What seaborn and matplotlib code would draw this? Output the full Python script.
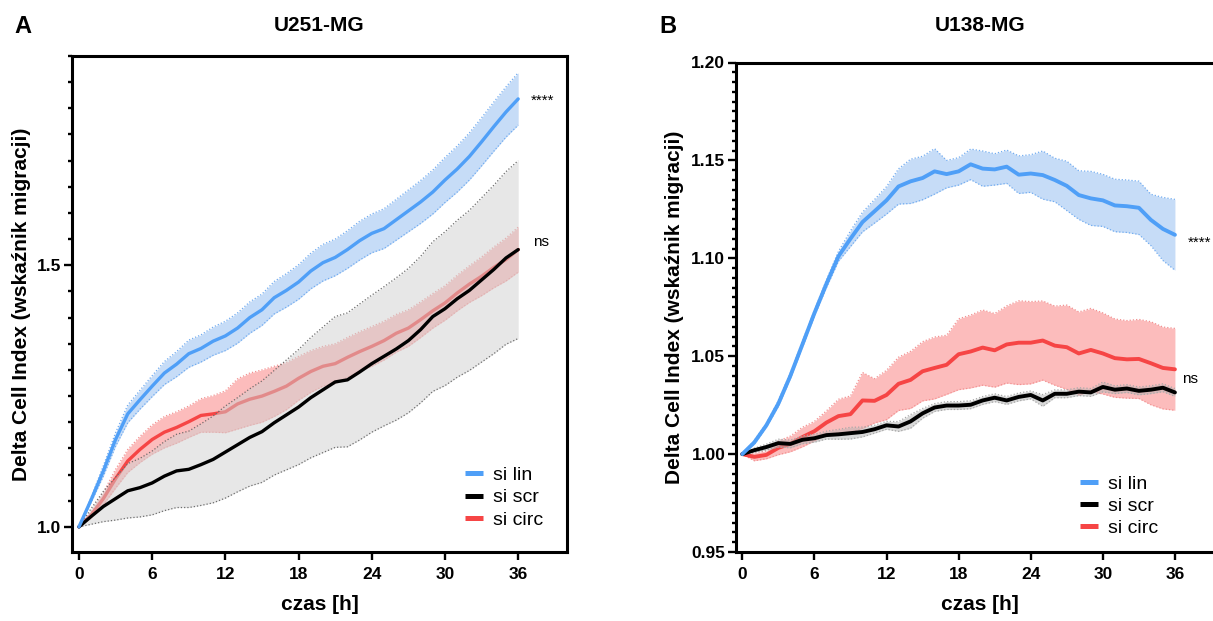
import matplotlib
matplotlib.use("Agg")
import matplotlib.pyplot as plt
import seaborn as sns
import pandas as pd
from matplotlib.lines import Line2D
from matplotlib.ticker import FixedLocator

# ---------------- data ----------------
hours = list(range(37))
series_names = ["si lin", "si scr", "si circ"]
x_ticks = [0, 6, 12, 18, 24, 30, 36]
panel_titles = ["U251-MG", "U138-MG"]
panel_letters = ["A", "B"]
x_label = "czas [h]"
y_label = "Delta Cell Index (wskaźnik migracji)"
a_yticks = [1.0, 1.5]
b_yticks = [0.95, 1.00, 1.05, 1.10, 1.15, 1.20]
a_signif = ["****", "ns"]
b_signif = ["****", "ns"]

# Panel A (U251-MG)
a_lin = [1.000, 1.052, 1.107, 1.167, 1.216, 1.243, 1.269, 1.294, 1.311, 1.331,
         1.341, 1.355, 1.365, 1.380, 1.400, 1.415, 1.438, 1.452, 1.468, 1.489,
         1.505, 1.515, 1.530, 1.547, 1.561, 1.570, 1.587, 1.604, 1.621, 1.640,
         1.663, 1.684, 1.708, 1.736, 1.765, 1.793, 1.818]
a_lin_sem = [0.000, 0.005, 0.010, 0.013, 0.017, 0.018, 0.020, 0.022, 0.024, 0.026,
             0.026, 0.027, 0.028, 0.029, 0.030, 0.030, 0.031, 0.032, 0.033, 0.034,
             0.035, 0.035, 0.036, 0.037, 0.037, 0.038, 0.039, 0.040, 0.041, 0.042,
             0.043, 0.044, 0.045, 0.046, 0.047, 0.048, 0.050]
a_scr = [1.000, 1.020, 1.039, 1.054, 1.069, 1.075, 1.084, 1.097, 1.107, 1.110,
         1.119, 1.129, 1.143, 1.157, 1.171, 1.182, 1.199, 1.214, 1.229, 1.247,
         1.262, 1.277, 1.281, 1.296, 1.312, 1.326, 1.340, 1.356, 1.377, 1.402,
         1.417, 1.436, 1.452, 1.472, 1.492, 1.514, 1.530]
a_scr_sem = [0.000, 0.015, 0.029, 0.041, 0.052, 0.056, 0.061, 0.066, 0.070, 0.073,
             0.078, 0.083, 0.088, 0.090, 0.093, 0.097, 0.100, 0.105, 0.110, 0.115,
             0.120, 0.125, 0.128, 0.130, 0.131, 0.133, 0.136, 0.138, 0.140, 0.143,
             0.147, 0.150, 0.153, 0.157, 0.161, 0.165, 0.170]
a_circ = [1.000, 1.023, 1.054, 1.092, 1.126, 1.148, 1.167, 1.181, 1.190, 1.201,
          1.213, 1.216, 1.220, 1.235, 1.244, 1.250, 1.259, 1.269, 1.284, 1.297,
          1.307, 1.312, 1.324, 1.335, 1.345, 1.356, 1.370, 1.380, 1.396, 1.413,
          1.428, 1.447, 1.464, 1.479, 1.496, 1.511, 1.530]
a_circ_sem = [0.000, 0.006, 0.012, 0.018, 0.022, 0.025, 0.028, 0.030, 0.030, 0.030,
              0.032, 0.035, 0.040, 0.048, 0.050, 0.050, 0.048, 0.045, 0.042, 0.040,
              0.038, 0.038, 0.038, 0.038, 0.038, 0.037, 0.036, 0.035, 0.034, 0.033,
              0.033, 0.034, 0.035, 0.037, 0.039, 0.041, 0.043]

# Panel B (U138-MG)
b_lin = [1.0000, 1.0060, 1.0147, 1.0258, 1.0400, 1.0560, 1.0720, 1.0870, 1.1010, 1.1100,
         1.1185, 1.1240, 1.1296, 1.1367, 1.1393, 1.1410, 1.1444, 1.1430, 1.1444, 1.1480,
         1.1458, 1.1454, 1.1468, 1.1427, 1.1433, 1.1425, 1.1400, 1.1370, 1.1323, 1.1306,
         1.1296, 1.1270, 1.1266, 1.1258, 1.1196, 1.1150, 1.1120]
b_lin_sem = [0.0000, 0.0010, 0.0010, 0.0015, 0.0015, 0.0015, 0.0015, 0.0020, 0.0025, 0.0040,
             0.0050, 0.0060, 0.0070, 0.0090, 0.0113, 0.0111, 0.0116, 0.0070, 0.0070, 0.0078,
             0.0090, 0.0080, 0.0085, 0.0096, 0.0096, 0.0123, 0.0111, 0.0126, 0.0124, 0.0138,
             0.0133, 0.0134, 0.0134, 0.0136, 0.0131, 0.0161, 0.0181]
b_scr = [1.0000, 1.0020, 1.0036, 1.0056, 1.0052, 1.0073, 1.0081, 1.0097, 1.0101, 1.0107,
         1.0113, 1.0127, 1.0147, 1.0141, 1.0167, 1.0208, 1.0238, 1.0248, 1.0248, 1.0252,
         1.0274, 1.0288, 1.0274, 1.0292, 1.0302, 1.0274, 1.0308, 1.0308, 1.0319, 1.0315,
         1.0343, 1.0329, 1.0335, 1.0323, 1.0329, 1.0339, 1.0315]
b_scr_sem = [0.0000, 0.0010, 0.0015, 0.0020, 0.0020, 0.0020, 0.0020, 0.0020, 0.0025, 0.0030,
             0.0025, 0.0020, 0.0020, 0.0025, 0.0035, 0.0025, 0.0020, 0.0020, 0.0020, 0.0020,
             0.0020, 0.0020, 0.0020, 0.0020, 0.0020, 0.0030, 0.0020, 0.0020, 0.0020, 0.0020,
             0.0025, 0.0020, 0.0020, 0.0020, 0.0020, 0.0020, 0.0020]
b_circ = [1.0000, 0.9986, 0.9996, 1.0032, 1.0052, 1.0087, 1.0117, 1.0161, 1.0194, 1.0204,
          1.0274, 1.0272, 1.0302, 1.0359, 1.0379, 1.0423, 1.0440, 1.0456, 1.0510, 1.0524,
          1.0544, 1.0530, 1.0560, 1.0569, 1.0569, 1.0580, 1.0554, 1.0546, 1.0514, 1.0532,
          1.0514, 1.0490, 1.0484, 1.0486, 1.0464, 1.0440, 1.0433]
b_circ_sem = [0.0000, 0.0020, 0.0020, 0.0035, 0.0040, 0.0050, 0.0050, 0.0060, 0.0086, 0.0093,
              0.0143, 0.0113, 0.0126, 0.0136, 0.0146, 0.0151, 0.0158, 0.0151, 0.0181, 0.0186,
              0.0192, 0.0188, 0.0197, 0.0214, 0.0210, 0.0202, 0.0202, 0.0215, 0.0212, 0.0212,
              0.0207, 0.0200, 0.0198, 0.0202, 0.0212, 0.0209, 0.0209]

# ---------------- style ----------------
sns.set_theme(style="ticks")
plt.rcParams["font.family"] = ["Liberation Sans", "DejaVu Sans"]
plt.rcParams["axes.linewidth"] = 2.2
for key in ("text.color", "axes.labelcolor", "xtick.color", "ytick.color", "axes.edgecolor"):
    plt.rcParams[key] = "black"

BLUE = "#4f9ff7"
RED = "#f64545"
BLACK = "#000000"

W, H = 1213, 621
fig = plt.figure(figsize=(W / 100, H / 100), dpi=100)

def fpos(left, top, right, bottom):
    return [left / W, 1 - bottom / H, (right - left) / W, (bottom - top) / H]

axA = fig.add_axes(fpos(72, 56, 567, 552))
axB = fig.add_axes(fpos(735.7, 62.5, 1223, 552))


def band(ax, mean, sem, fill, alpha, edge, z, lw=0.9):
    lo = [m - s for m, s in zip(mean, sem)]
    hi = [m + s for m, s in zip(mean, sem)]
    ax.fill_between(hours, lo, hi, color=fill, alpha=alpha, lw=0, zorder=z)
    for arr in (lo, hi):
        ax.plot(hours, arr, color=edge, lw=lw, ls=(0, (1, 1.6)), zorder=z + 0.1)


def line(ax, mean, color, lw, z):
    sns.lineplot(x=hours, y=mean, ax=ax, color=color, lw=lw, zorder=z,
                 errorbar=None, legend=False)


def panel(ax, lin, lin_sem, scr, scr_sem, circ, circ_sem, grey_fill, grey_edge, lw):
    band(ax, circ, circ_sem, "#fcbcbc", 1.0, "#f29090", 1)
    line(ax, circ, RED, lw, 2)
    band(ax, scr, scr_sem, grey_fill, 0.5, grey_edge, 3)
    line(ax, scr, BLACK, lw, 4)
    band(ax, lin, lin_sem, "#c6dcf7", 1.0, "#70abf0", 5)
    line(ax, lin, BLUE, lw, 6)


panel(axA, a_lin, a_lin_sem, a_scr, a_scr_sem, a_circ, a_circ_sem, "#d0d0d0", "#6e6e6e", 2.4)
panel(axB, b_lin, b_lin_sem, b_scr, b_scr_sem, b_circ, b_circ_sem, "#b4b4b4", "#a8a8a8", 2.8)

# axes limits & ticks
axA.set_xlim(-0.57, 40.0)
axA.set_ylim(0.952, 1.90)
axB.set_xlim(-0.55, 40.0)
axB.set_ylim(0.95, 1.20)

for ax in (axA, axB):
    ax.set_xticks(x_ticks)
    ax.set_xticklabels([str(t) for t in x_ticks])
    ax.tick_params(axis="both", which="major", direction="out", length=5.5, width=1.7,
                   labelsize=12.5, color="black", labelcolor="black")
    ax.tick_params(axis="x", pad=5.5)
    ax.tick_params(axis="y", pad=2)
    ax.tick_params(axis="y", which="minor", direction="out", length=3.2, width=1.7, color="black")
    for lab in ax.get_xticklabels() + ax.get_yticklabels():
        lab.set_fontweight("bold")
    for sp in ax.spines.values():
        sp.set_color("black")
        sp.set_linewidth(2.2)

axA.set_yticks(a_yticks)
axA.set_yticklabels(["%.1f" % v for v in a_yticks], fontweight="bold")
axA.yaxis.set_minor_locator(FixedLocator([round(1.0 + 0.05 * k, 3) for k in range(1, 19) if k != 10]))
axB.set_yticks(b_yticks)
axB.set_yticklabels(["%.2f" % v for v in b_yticks], fontweight="bold")
axB.yaxis.set_minor_locator(FixedLocator([round(0.95 + 0.005 * k, 4) for k in range(1, 50) if k % 10 != 0]))
axB.spines["right"].set_visible(False)

# labels
for ax, ylc in ((axA, -0.103), (axB, -0.1246)):
    ax.set_xlabel(x_label, fontsize=15, fontweight="bold", color="black")
    ax.set_ylabel(y_label, fontsize=15, fontweight="bold", color="black")
    ax.xaxis.label.set_va("center")
    ax.yaxis.label.set_va("center")
    ax.yaxis.label.set_ha("center")
    ax.yaxis.set_label_coords(ylc, 0.5)

axA.xaxis.set_label_coords(0.5, (552 - 605) / 496)
axB.xaxis.set_label_coords((980 - 735.7) / (1223 - 735.7), (552 - 605) / 489.5)

# titles & panel letters
fig.text(319.5 / W, 1 - 25.7 / H, panel_titles[0], ha="center", va="center", fontsize=15, fontweight="bold", color="black")
fig.text(980 / W, 1 - 25.7 / H, panel_titles[1], ha="center", va="center", fontsize=15, fontweight="bold", color="black")
fig.text(22.5 / W, 1 - 26.7 / H, panel_letters[0], ha="center", va="center", fontsize=17, fontweight="bold", color="black")
fig.text(668 / W, 1 - 26.7 / H, panel_letters[1], ha="center", va="center", fontsize=17, fontweight="bold", color="black")

# significance marks
axA.text(37.05, 1.8066, a_signif[0], fontsize=11, ha="left", va="baseline", clip_on=False, color="black")
axA.text(37.18, 1.5375, a_signif[1], fontsize=11, ha="left", va="baseline", clip_on=False, color="black")
axB.text(37.04, 1.1059, b_signif[0], fontsize=11, ha="left", va="baseline", clip_on=False, color="black")
axB.text(36.58, 1.0362, b_signif[1], fontsize=11, ha="left", va="baseline", clip_on=False, color="black")

# legends
colors = [BLUE, BLACK, RED]
for ax, x0, ytop in ((axA, 465, 466.5), (axB, 1080, 475)):
    handles = [Line2D([0], [0], color=c, lw=3.6, solid_capstyle="butt") for c in colors]
    leg = ax.legend(handles, series_names, loc="upper left",
                    bbox_to_anchor=(x0 / W, 1 - ytop / H), bbox_transform=fig.transFigure,
                    frameon=False, fontsize=14, borderpad=0, borderaxespad=0,
                    handlelength=0.93, handletextpad=0.5, labelspacing=0.24)
    for t in leg.get_texts():
        t.set_color("black")

fig.savefig("out.png", dpi=100)
